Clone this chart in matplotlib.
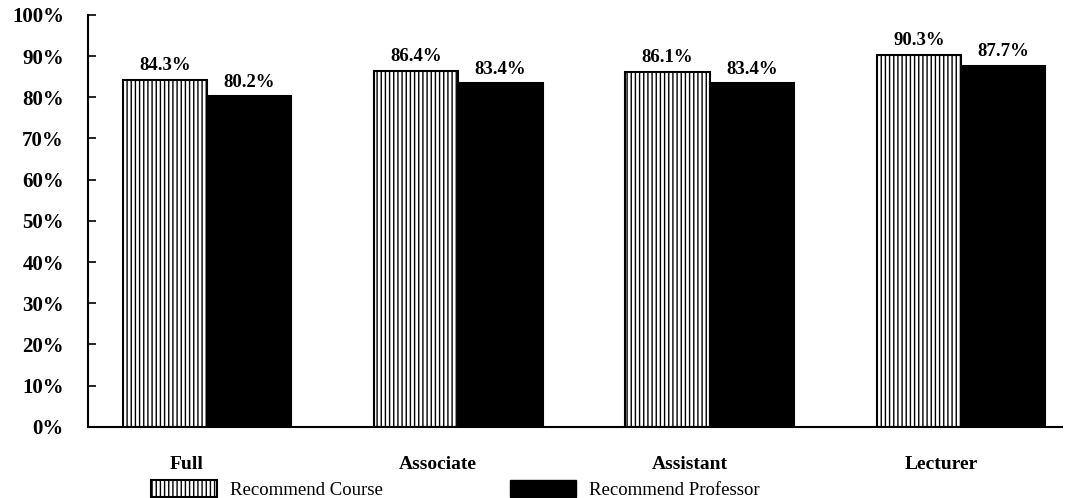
import numpy as np
import matplotlib
matplotlib.use('Agg')
import matplotlib.pyplot as plt
from matplotlib.patches import Patch

categories = ['Full', 'Associate', 'Assistant', 'Lecturer']
course = [84.3, 86.4, 86.1, 90.3]
professor = [80.2, 83.4, 83.4, 87.7]
y_ticks = [0, 10, 20, 30, 40, 50, 60, 70, 80, 90, 100]

plt.rcParams['font.family'] = ['Liberation Serif', 'DejaVu Serif']
plt.rcParams['hatch.linewidth'] = 1.0

fig = plt.figure(figsize=(10.81, 4.98), dpi=100)
ax = fig.add_axes([0.081, 0.143, 0.901, 0.827])

x = np.arange(len(categories))
w = 0.335
b1 = ax.bar(x - w / 2, course, w, color='white', edgecolor='black',
            hatch='||||', linewidth=1.5)
b2 = ax.bar(x + w / 2, professor, w, color='black', edgecolor='black',
            linewidth=1.5)

for bars, vals in ((b1, course), (b2, professor)):
    for r, v in zip(bars, vals):
        ax.text(r.get_x() + r.get_width() / 2, v + 1.4, f'{v:.1f}%',
                ha='center', va='bottom', fontsize=13.5, fontweight='bold')

ax.set_ylim(0, 100)
ax.set_xlim(-0.475, 3.4)
ax.set_yticks(y_ticks)
ax.set_yticklabels([f'{t}%' for t in y_ticks], fontsize=15, fontweight='bold')
ax.tick_params(axis='y', direction='in', length=6, width=1.2, pad=17)
ax.set_xticks(x - 0.08)
ax.set_xticklabels(categories, fontsize=14, fontweight='bold')
ax.tick_params(axis='x', length=0, pad=21)
for s in ('top', 'right'):
    ax.spines[s].set_visible(False)
for s in ('left', 'bottom'):
    ax.spines[s].set_linewidth(1.5)

handles = [Patch(facecolor='white', edgecolor='black', hatch='||||', linewidth=1.5),
           Patch(facecolor='black', edgecolor='black')]
fig.legend(handles, ['Recommend Course', 'Recommend Professor'], ncol=2,
           loc='lower left', bbox_to_anchor=(0.124, -0.035), frameon=False,
           fontsize=13.5, handlelength=3.5, handleheight=1.0,
           handletextpad=0.7, columnspacing=6.8)

fig.savefig('out.png', dpi=100)
